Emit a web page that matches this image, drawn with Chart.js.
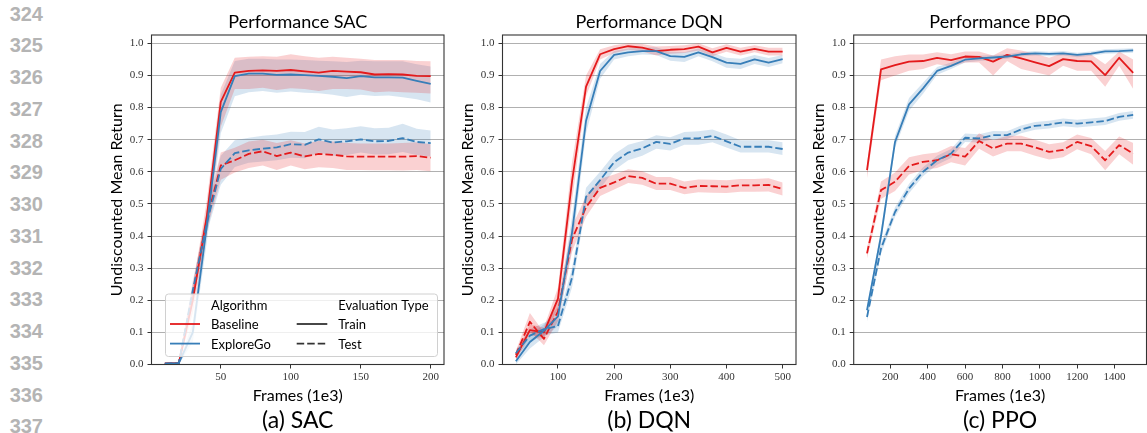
<!DOCTYPE html>
<html>
<head>
<meta charset="utf-8">
<title>Performance SAC / DQN / PPO</title>
<style>
  html, body { margin: 0; padding: 0; background: #ffffff; }
  body { position: relative; width: 1147px; height: 433px; overflow: hidden; }
  .ln { position: absolute; left: 0; width: 43px; text-align: right;
        font: bold 20px "Liberation Sans", Arial, sans-serif; line-height: 20px; color: #b4b4b4; }
  canvas { position: absolute; top: 0; }
</style>
<script src="https://cdn.jsdelivr.net/npm/chart.js@4.4.1/dist/chart.umd.min.js"></script>
</head>
<body>
<div id="lineNumbers"></div>
<canvas id="sac" width="355" height="433" style="left:95px"></canvas>
<canvas id="dqn" width="350" height="433" style="left:450px"></canvas>
<canvas id="ppo" width="347" height="433" style="left:800px"></canvas>
<script>
// ---- margin line numbers ----
const lineNumbers = ['324','325','326','327','328','329','330','331','332','333','334','335','336','337'];

// ---- shared axis ticks ----
const yTicks = [0.0, 0.1, 0.2, 0.3, 0.4, 0.5, 0.6, 0.7, 0.8, 0.9, 1.0];
const sacXTicks = [50, 100, 150, 200];
const dqnXTicks = [100, 200, 300, 400, 500];
const ppoXTicks = [200, 400, 600, 800, 1000, 1200, 1400];

// ---- SAC ----
const sacFrames = [10, 20, 30, 40, 50, 60, 70, 80, 90, 100, 110, 120, 130, 140, 150, 160, 170, 180, 190, 200];
const sacBaseTrain   = [0.003, 0.004, 0.20, 0.46, 0.818, 0.909, 0.914, 0.916, 0.914, 0.917, 0.913, 0.909, 0.914, 0.912, 0.910, 0.903, 0.904, 0.903, 0.899, 0.898];
const sacBaseTrainLo = [0.000, 0.000, 0.16, 0.41, 0.740, 0.858, 0.858, 0.862, 0.855, 0.860, 0.858, 0.852, 0.858, 0.858, 0.856, 0.848, 0.850, 0.848, 0.846, 0.844];
const sacBaseTrainHi = [0.006, 0.008, 0.24, 0.51, 0.862, 0.955, 0.958, 0.960, 0.958, 0.966, 0.960, 0.955, 0.958, 0.955, 0.952, 0.948, 0.948, 0.948, 0.945, 0.944];
const sacExpTrain    = [0.003, 0.004, 0.10, 0.43, 0.786, 0.898, 0.906, 0.906, 0.902, 0.903, 0.901, 0.899, 0.896, 0.892, 0.898, 0.894, 0.894, 0.893, 0.883, 0.874];
const sacExpTrainLo  = [0.000, 0.000, 0.07, 0.38, 0.720, 0.835, 0.848, 0.852, 0.846, 0.850, 0.846, 0.845, 0.840, 0.833, 0.840, 0.836, 0.838, 0.832, 0.826, 0.816];
const sacExpTrainHi  = [0.006, 0.008, 0.13, 0.48, 0.840, 0.945, 0.952, 0.952, 0.950, 0.950, 0.948, 0.946, 0.944, 0.942, 0.946, 0.944, 0.944, 0.944, 0.935, 0.928];
const sacBaseTest    = [0.003, 0.004, 0.22, 0.45, 0.620, 0.636, 0.656, 0.664, 0.649, 0.660, 0.648, 0.656, 0.653, 0.648, 0.647, 0.647, 0.647, 0.647, 0.649, 0.644];
const sacBaseTestLo  = [0.000, 0.000, 0.19, 0.42, 0.575, 0.598, 0.612, 0.620, 0.606, 0.620, 0.608, 0.614, 0.612, 0.606, 0.606, 0.605, 0.605, 0.604, 0.606, 0.602];
const sacBaseTestHi  = [0.006, 0.008, 0.25, 0.48, 0.660, 0.675, 0.694, 0.700, 0.690, 0.698, 0.688, 0.696, 0.694, 0.690, 0.688, 0.688, 0.688, 0.690, 0.692, 0.686];
const sacExpTest     = [0.003, 0.004, 0.23, 0.44, 0.609, 0.658, 0.667, 0.672, 0.676, 0.686, 0.684, 0.701, 0.691, 0.695, 0.701, 0.695, 0.696, 0.705, 0.693, 0.689];
const sacExpTestLo   = [0.000, 0.000, 0.20, 0.41, 0.560, 0.615, 0.628, 0.632, 0.636, 0.644, 0.642, 0.660, 0.650, 0.652, 0.660, 0.654, 0.655, 0.662, 0.652, 0.648];
const sacExpTestHi   = [0.006, 0.008, 0.26, 0.47, 0.650, 0.698, 0.706, 0.712, 0.716, 0.725, 0.724, 0.740, 0.732, 0.736, 0.742, 0.736, 0.737, 0.750, 0.734, 0.729];

// ---- DQN ----
const dqnFrames = [25, 50, 75, 100, 125, 150, 175, 200, 225, 250, 275, 300, 325, 350, 375, 400, 425, 450, 475, 500];
const dqnBaseTrain   = [0.022, 0.107, 0.100, 0.205, 0.570, 0.865, 0.966, 0.982, 0.991, 0.987, 0.976, 0.980, 0.982, 0.990, 0.972, 0.986, 0.974, 0.983, 0.974, 0.974];
const dqnBaseTrainLo = [0.012, 0.090, 0.085, 0.175, 0.510, 0.835, 0.950, 0.970, 0.980, 0.975, 0.962, 0.968, 0.970, 0.978, 0.960, 0.974, 0.962, 0.972, 0.962, 0.962];
const dqnBaseTrainHi = [0.032, 0.125, 0.115, 0.240, 0.630, 0.900, 0.982, 0.994, 1.000, 0.998, 0.990, 0.992, 0.994, 1.000, 0.985, 0.997, 0.986, 0.994, 0.986, 0.986];
const dqnExpTrain    = [0.010, 0.070, 0.105, 0.150, 0.410, 0.759, 0.914, 0.964, 0.972, 0.976, 0.976, 0.960, 0.958, 0.972, 0.957, 0.940, 0.936, 0.950, 0.940, 0.951];
const dqnExpTrainLo  = [0.000, 0.050, 0.085, 0.120, 0.360, 0.720, 0.890, 0.950, 0.960, 0.965, 0.964, 0.946, 0.942, 0.960, 0.944, 0.924, 0.920, 0.936, 0.926, 0.938];
const dqnExpTrainHi  = [0.020, 0.090, 0.125, 0.180, 0.460, 0.800, 0.936, 0.976, 0.984, 0.987, 0.988, 0.974, 0.972, 0.984, 0.970, 0.955, 0.952, 0.964, 0.954, 0.964];
const dqnBaseTest    = [0.030, 0.133, 0.080, 0.165, 0.390, 0.490, 0.550, 0.567, 0.587, 0.581, 0.563, 0.563, 0.550, 0.556, 0.555, 0.554, 0.558, 0.558, 0.559, 0.546];
const dqnBaseTestLo  = [0.020, 0.105, 0.060, 0.135, 0.350, 0.460, 0.525, 0.545, 0.565, 0.560, 0.543, 0.543, 0.530, 0.536, 0.535, 0.534, 0.538, 0.538, 0.539, 0.526];
const dqnBaseTestHi  = [0.042, 0.160, 0.100, 0.200, 0.430, 0.525, 0.578, 0.592, 0.608, 0.602, 0.584, 0.584, 0.570, 0.576, 0.575, 0.574, 0.578, 0.578, 0.580, 0.567];
const dqnExpTest     = [0.035, 0.090, 0.110, 0.120, 0.270, 0.522, 0.574, 0.630, 0.660, 0.673, 0.693, 0.687, 0.704, 0.704, 0.712, 0.695, 0.678, 0.678, 0.678, 0.671];
const dqnExpTestLo   = [0.025, 0.070, 0.090, 0.100, 0.240, 0.495, 0.548, 0.605, 0.636, 0.650, 0.672, 0.666, 0.684, 0.684, 0.692, 0.676, 0.660, 0.660, 0.660, 0.652];
const dqnExpTestHi   = [0.045, 0.110, 0.130, 0.140, 0.300, 0.550, 0.600, 0.655, 0.684, 0.696, 0.714, 0.708, 0.724, 0.726, 0.732, 0.716, 0.698, 0.698, 0.698, 0.692];

// ---- PPO ----
const ppoFrames = [75, 150, 225, 300, 375, 450, 525, 600, 675, 750, 825, 900, 975, 1050, 1125, 1200, 1275, 1350, 1425, 1500];
const ppoBaseTrain   = [0.605, 0.919, 0.932, 0.943, 0.945, 0.955, 0.948, 0.959, 0.958, 0.943, 0.964, 0.953, 0.941, 0.929, 0.951, 0.945, 0.944, 0.901, 0.955, 0.908];
const ppoBaseTrainLo = [0.580, 0.885, 0.900, 0.915, 0.920, 0.935, 0.928, 0.940, 0.940, 0.900, 0.945, 0.920, 0.910, 0.900, 0.930, 0.915, 0.915, 0.865, 0.930, 0.858];
const ppoBaseTrainHi = [0.625, 0.950, 0.960, 0.965, 0.965, 0.972, 0.966, 0.975, 0.975, 0.962, 0.985, 0.978, 0.968, 0.955, 0.970, 0.965, 0.965, 0.935, 0.975, 0.950];
const ppoExpTrain    = [0.169, 0.400, 0.693, 0.810, 0.860, 0.914, 0.930, 0.949, 0.953, 0.956, 0.959, 0.966, 0.969, 0.967, 0.969, 0.964, 0.968, 0.975, 0.976, 0.978];
const ppoExpTrainLo  = [0.160, 0.380, 0.675, 0.790, 0.843, 0.902, 0.920, 0.940, 0.945, 0.948, 0.952, 0.959, 0.962, 0.960, 0.962, 0.957, 0.961, 0.968, 0.969, 0.971];
const ppoExpTrainHi  = [0.180, 0.420, 0.712, 0.830, 0.877, 0.926, 0.940, 0.958, 0.961, 0.964, 0.966, 0.973, 0.976, 0.974, 0.976, 0.971, 0.975, 0.982, 0.983, 0.985];
const ppoBaseTest    = [0.346, 0.543, 0.569, 0.618, 0.631, 0.636, 0.655, 0.647, 0.696, 0.673, 0.688, 0.688, 0.676, 0.662, 0.668, 0.693, 0.680, 0.636, 0.683, 0.657];
const ppoBaseTestLo  = [0.330, 0.515, 0.540, 0.592, 0.606, 0.612, 0.630, 0.620, 0.672, 0.648, 0.664, 0.664, 0.650, 0.638, 0.645, 0.670, 0.655, 0.605, 0.655, 0.622];
const ppoBaseTestHi  = [0.362, 0.570, 0.598, 0.645, 0.655, 0.660, 0.680, 0.674, 0.720, 0.698, 0.712, 0.712, 0.700, 0.686, 0.692, 0.716, 0.705, 0.665, 0.710, 0.690];
const ppoExpTest     = [0.148, 0.361, 0.475, 0.548, 0.600, 0.636, 0.657, 0.706, 0.704, 0.714, 0.714, 0.732, 0.743, 0.747, 0.754, 0.750, 0.754, 0.758, 0.771, 0.777];
const ppoExpTestLo   = [0.135, 0.345, 0.460, 0.533, 0.586, 0.622, 0.643, 0.693, 0.691, 0.701, 0.702, 0.720, 0.731, 0.735, 0.742, 0.738, 0.742, 0.746, 0.759, 0.765];
const ppoExpTestHi   = [0.162, 0.377, 0.490, 0.563, 0.614, 0.650, 0.671, 0.719, 0.717, 0.727, 0.726, 0.744, 0.755, 0.759, 0.766, 0.762, 0.766, 0.770, 0.783, 0.789];

// ---- styling ----
const RED = '#e41a1c', BLUE = '#377eb8';
const RED_BAND = 'rgba(228,26,28,0.2)', BLUE_BAND = 'rgba(55,126,184,0.2)';
const DASH = [7.5, 3];
const SANS = 'Lato, "Open Sans", sans-serif';
const SERIF = '"Liberation Serif", "DejaVu Serif", serif';
const PLOT_TOP = 35, PLOT_BOTTOM = 364.5, CANVAS_H = 433;

// margin line numbers, one every 31.75px
const lnBox = document.getElementById('lineNumbers');
lineNumbers.forEach((t, i) => {
  const d = document.createElement('div');
  d.className = 'ln';
  d.textContent = t;
  d.style.top = (13.3 + i * 31.75 - 9.8) + 'px';
  lnBox.appendChild(d);
});

// titles, spines, captions and the two-block legend
const panelText = {
  id: 'panelText',
  afterDatasetsDraw(chart, args, o) {
    const ctx = chart.ctx, a = chart.chartArea;
    const cx = (a.left + a.right) / 2;
    ctx.save();
    // four spines
    ctx.strokeStyle = '#333333';
    ctx.lineWidth = 1.1;
    ctx.strokeRect(a.left, a.top, a.right - a.left, a.bottom - a.top);

    if (o.legend) drawLegend(ctx, o.legend);

    ctx.fillStyle = '#000000';
    ctx.textAlign = 'center';
    ctx.textBaseline = 'alphabetic';
    ctx.font = '18px ' + SANS;
    ctx.fillText(o.title, cx, 28.3);
    ctx.font = '16px ' + SANS;
    ctx.fillText(o.xTitle, cx, 401);
    ctx.font = '23px ' + SANS;
    ctx.fillText(o.caption, cx, 428.3);

    ctx.save();
    ctx.translate(a.left - 29.8, (a.top + a.bottom) / 2);
    ctx.rotate(-Math.PI / 2);
    ctx.font = '16px ' + SANS;
    ctx.fillText(o.yTitle, 0, 0);
    ctx.restore();
    ctx.restore();
  }
};

function drawLegend(ctx, L) {
  const x0 = L.left, y0 = L.top, w = L.width, h = L.height, r = 3;
  ctx.beginPath();
  ctx.moveTo(x0 + r, y0);
  ctx.arcTo(x0 + w, y0, x0 + w, y0 + h, r);
  ctx.arcTo(x0 + w, y0 + h, x0, y0 + h, r);
  ctx.arcTo(x0, y0 + h, x0, y0, r);
  ctx.arcTo(x0, y0, x0 + w, y0, r);
  ctx.closePath();
  ctx.fillStyle = 'rgba(255,255,255,0.8)';
  ctx.fill();
  ctx.strokeStyle = '#d0d0d0';
  ctx.lineWidth = 1;
  ctx.stroke();

  ctx.font = '13px ' + SANS;
  ctx.textAlign = 'left';
  ctx.textBaseline = 'alphabetic';
  L.columns.forEach(col => {
    ctx.fillStyle = '#000000';
    ctx.fillText(col.header, col.textX, L.headerBase);
    col.items.forEach((it, k) => {
      const ly = L.rowLine[k];
      ctx.beginPath();
      ctx.setLineDash(it.dash);
      ctx.strokeStyle = it.color;
      ctx.lineWidth = 1.8;
      ctx.moveTo(col.lineX0, ly);
      ctx.lineTo(col.lineX1, ly);
      ctx.stroke();
      ctx.setLineDash([]);
      ctx.fillStyle = '#000000';
      ctx.fillText(it.label, col.textX, ly + 5);
    });
  });
}

function seriesSet(bt, btLo, btHi, et, etLo, etHi, bs, bsLo, bsHi, es, esLo, esHi) {
  return [
    { mean: bt, lo: btLo, hi: btHi, color: RED,  band: RED_BAND,  dash: [], order: 2 },
    { mean: bs, lo: bsLo, hi: bsHi, color: RED,  band: RED_BAND,  dash: DASH, order: 2 },
    { mean: et, lo: etLo, hi: etHi, color: BLUE, band: BLUE_BAND, dash: [], order: 1 },
    { mean: es, lo: esLo, hi: esHi, color: BLUE, band: BLUE_BAND, dash: DASH, order: 1 }
  ];
}

function makePanel(id, frames, series, cfg) {
  const pts = v => frames.map((x, i) => ({ x: x, y: v[i] }));
  const datasets = [];
  series.forEach(s => {
    datasets.push({ data: pts(s.mean), borderColor: s.color, borderWidth: 1.8, borderDash: s.dash,
                    borderJoinStyle: 'round', pointRadius: 0, fill: false, order: s.order });
  });
  series.forEach(s => {
    datasets.push({ data: pts(s.hi), borderColor: 'rgba(0,0,0,0)', borderWidth: 0, pointRadius: 0,
                    backgroundColor: s.band, fill: '+1', order: 5 });
    datasets.push({ data: pts(s.lo), borderColor: 'rgba(0,0,0,0)', borderWidth: 0, pointRadius: 0,
                    fill: false, order: 5 });
  });

  return new Chart(document.getElementById(id), {
    type: 'line',
    data: { datasets: datasets },
    options: {
      responsive: false,
      animation: false,
      devicePixelRatio: 1,
      events: [],
      layout: { padding: { top: PLOT_TOP, right: cfg.padRight, left: 0, bottom: 0 } },
      plugins: {
        legend: { display: false },
        tooltip: { enabled: false },
        filler: { drawTime: 'beforeDatasetsDraw' },
        panelText: cfg.text
      },
      scales: {
        x: {
          type: 'linear', min: cfg.xMin, max: cfg.xMax,
          afterBuildTicks: s => { s.ticks = cfg.xTicks.map(v => ({ value: v })); },
          afterFit: s => { s.height = CANVAS_H - PLOT_BOTTOM; },
          grid: { drawOnChartArea: false, drawTicks: true, tickLength: 4, tickColor: '#333333', tickWidth: 1 },
          border: { display: false },
          ticks: { autoSkip: false, maxRotation: 0, padding: 2, color: '#333333',
                   font: { family: SERIF, size: 11 }, callback: v => String(v) }
        },
        y: {
          type: 'linear', min: 0, max: 1.026,
          afterBuildTicks: s => { s.ticks = yTicks.map(v => ({ value: v })); },
          afterFit: s => { s.width = cfg.yWidth; },
          grid: { color: '#b0b0b0', lineWidth: 1, drawTicks: true, tickLength: 4, tickColor: '#333333', tickWidth: 1 },
          border: { display: false },
          ticks: { autoSkip: false, padding: 4, color: '#333333',
                   font: { family: SERIF, size: 11 }, callback: v => v.toFixed(1) }
        }
      }
    },
    plugins: [panelText]
  });
}

const yTitle = 'Undiscounted Mean Return';
const xTitle = 'Frames (1e3)';

makePanel('sac', sacFrames,
  seriesSet(sacBaseTrain, sacBaseTrainLo, sacBaseTrainHi, sacExpTrain, sacExpTrainLo, sacExpTrainHi,
            sacBaseTest, sacBaseTestLo, sacBaseTestHi, sacExpTest, sacExpTestLo, sacExpTestHi),
  { xMin: 0.5, xMax: 209.5, xTicks: sacXTicks, yWidth: 56.5, padRight: 6,
    text: { title: 'Performance SAC', xTitle: xTitle, yTitle: yTitle, caption: '(a) SAC',
      legend: {
        left: 70.5, top: 294, width: 272, height: 62.5,
        headerBase: 309.5, rowLine: [324, 343.6],
        columns: [
          { header: 'Algorithm', textX: 116, lineX0: 75, lineX1: 105,
            items: [ { label: 'Baseline', color: RED, dash: [] }, { label: 'ExploreGo', color: BLUE, dash: [] } ] },
          { header: 'Evaluation Type', textX: 243.3, lineX0: 201.7, lineX1: 232.3,
            items: [ { label: 'Train', color: '#333333', dash: [] }, { label: 'Test', color: '#333333', dash: DASH } ] }
        ]
      } } });

makePanel('dqn', dqnFrames,
  seriesSet(dqnBaseTrain, dqnBaseTrainLo, dqnBaseTrainHi, dqnExpTrain, dqnExpTrainLo, dqnExpTrainHi,
            dqnBaseTest, dqnBaseTestLo, dqnBaseTestHi, dqnExpTest, dqnExpTestLo, dqnExpTestHi),
  { xMin: 1.25, xMax: 523.75, xTicks: dqnXTicks, yWidth: 52.5, padRight: 4,
    text: { title: 'Performance DQN', xTitle: xTitle, yTitle: yTitle, caption: '(b) DQN' } });

makePanel('ppo', ppoFrames,
  seriesSet(ppoBaseTrain, ppoBaseTrainLo, ppoBaseTrainHi, ppoExpTrain, ppoExpTrainLo, ppoExpTrainHi,
            ppoBaseTest, ppoBaseTestLo, ppoBaseTestHi, ppoExpTest, ppoExpTestLo, ppoExpTestHi),
  { xMin: 3.75, xMax: 1571.25, xTicks: ppoXTicks, yWidth: 53.7, padRight: 0.5,
    text: { title: 'Performance PPO', xTitle: xTitle, yTitle: yTitle, caption: '(c) PPO' } });
</script>
</body>
</html>
